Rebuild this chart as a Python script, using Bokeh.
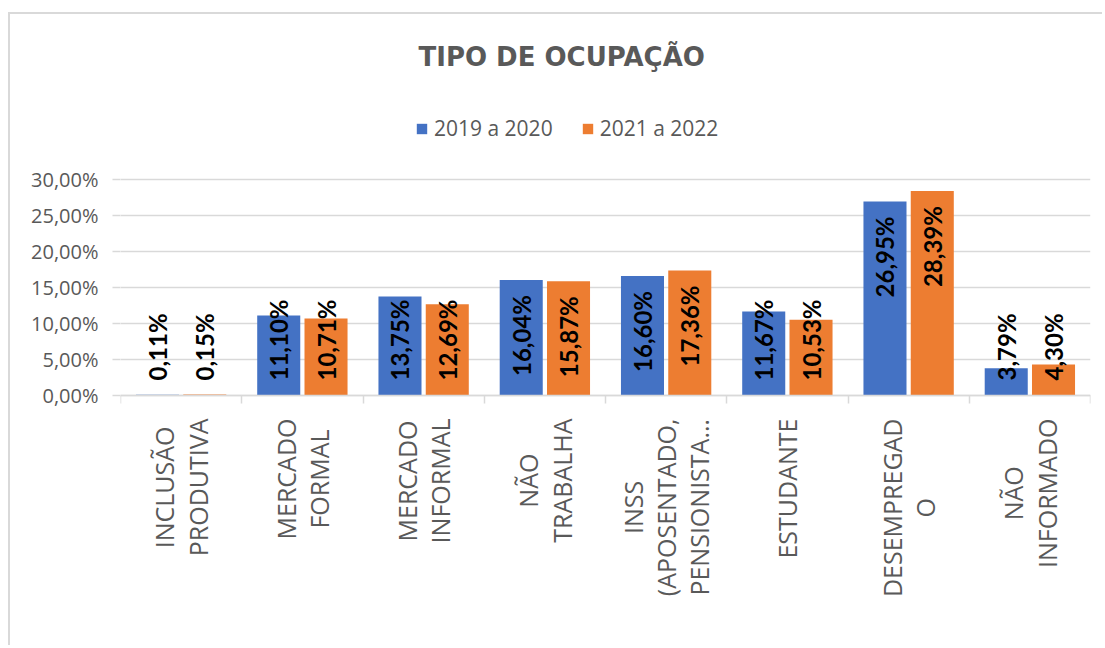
import math
from bokeh.plotting import figure
from bokeh.models import Range1d, FixedTicker, ColumnDataSource
from bokeh.core.properties import value
from bokeh.embed import file_html
from bokeh.resources import INLINE

# ---- data ----
categories = [
    "INCLUSÃO\nPRODUTIVA",
    "MERCADO\nFORMAL",
    "MERCADO\nINFORMAL",
    "NÃO\nTRABALHA",
    "INSS\n(APOSENTADO,\nPENSIONISTA…",
    "ESTUDANTE",
    "DESEMPREGAD\nO",
    "NÃO\nINFORMADO",
]
series_names = ["2019 a 2020", "2021 a 2022"]
values_2019_2020 = [0.11, 11.10, 13.75, 16.04, 16.60, 11.67, 26.95, 3.79]
values_2021_2022 = [0.15, 10.71, 12.69, 15.87, 17.36, 10.53, 28.39, 4.30]
y_ticks = [0, 5, 10, 15, 20, 25, 30]
y_tick_labels = ["0,00%", "5,00%", "10,00%", "15,00%", "20,00%", "25,00%", "30,00%"]
title_text = "TIPO DE OCUPAÇÃO"

# ---- style / layout ----
BLUE = "#4472C4"
ORANGE = "#ED7D31"
GRAY_TXT = "#595959"
GRID = "#d9d9d9"
W, H = 1094, 633
MB_L, MB_R, MB_T, MB_B = 110, 14, 82, 16
GRID_H = 216            # px from 0% to 30%
ZERO_FROM_TOP = 299     # px from frame top down to the 0% line
FRAME_H = H - MB_T - MB_B
Y_MAX = 30.0
PX_PER_UNIT = GRID_H / Y_MAX
Y_TOP = ZERO_FROM_TOP / PX_PER_UNIT
Y_BOT = -(FRAME_H - ZERO_FROM_TOP) / PX_PER_UNIT
BAR_W = 0.355
DODGE = 0.195
CAT_GAP = 23            # px between axis line and category labels

p = figure(width=W, height=H, x_range=Range1d(0, len(categories)), y_range=Range1d(Y_BOT, Y_TOP),
           output_backend="svg", toolbar_location=None,
           min_border_left=MB_L, min_border_right=MB_R, min_border_top=MB_T,
           min_border_bottom=MB_B)
p.styles = {"margin-left": "8px", "margin-top": "12px",
            "border-left": "2px solid #d9d9d9", "border-top": "2px solid #d9d9d9"}
p.outline_line_color = None
p.background_fill_color = "white"
p.border_fill_color = "white"

# title
p.title.text = title_text
p.title.align = "left"
p.title.offset = 298
p.title.vertical_align = "top"
p.title.text_font = "DejaVu Sans"
p.title.text_font_style = "bold"
p.title.text_font_size = "26px"
p.title.text_color = GRAY_TXT
p.title.standoff = 46

# y axis
p.xgrid.visible = False
p.ygrid.grid_line_color = GRID
p.ygrid.grid_line_width = 1.5
p.yaxis.ticker = FixedTicker(ticks=y_ticks)
p.yaxis.major_label_overrides = {t: l for t, l in zip(y_ticks, y_tick_labels)}
p.yaxis.axis_line_color = None
p.yaxis.major_tick_out = 8
p.yaxis.major_tick_in = 0
p.yaxis.major_tick_line_color = GRID
p.yaxis.major_tick_line_width = 1.5
p.yaxis.minor_tick_line_color = None
p.yaxis.major_label_standoff = 14
p.yaxis.major_label_text_font = "Open Sans"
p.yaxis.major_label_text_font_size = "20px"
p.yaxis.major_label_text_color = GRAY_TXT

# x axis at the 0% line, with separator ticks between categories
centers = [i + 0.5 for i in range(len(categories))]
p.xaxis.fixed_location = 0
p.xaxis.ticker = FixedTicker(ticks=[], minor_ticks=list(range(len(categories) + 1)))
p.xaxis.axis_line_color = GRID
p.xaxis.axis_line_width = 1.5
p.xaxis.major_tick_out = 0
p.xaxis.major_tick_in = 0
p.xaxis.major_tick_line_color = None
p.xaxis.minor_tick_out = 8
p.xaxis.minor_tick_in = 0
p.xaxis.minor_tick_line_color = GRID
p.xaxis.minor_tick_line_width = 1.5
p.xaxis.major_label_standoff = 0

# category labels (rotated, lines centred)
p.text(x=centers, y=[-CAT_GAP / PX_PER_UNIT] * len(centers), text=categories, angle=math.pi / 2,
       anchor=value("center_right"), text_align="center",
       text_font=value("Open Sans"), text_font_size="25px", text_color=GRAY_TXT,
       text_line_height=0.98)

# bars
x1 = [c - DODGE for c in centers]
x2 = [c + DODGE for c in centers]
p.vbar(x=x1, top=values_2019_2020, width=BAR_W, color=BLUE, line_color=None, legend_label=series_names[0])
p.vbar(x=x2, top=values_2021_2022, width=BAR_W, color=ORANGE, line_color=None, legend_label=series_names[1])

# data labels
def fmt(v):
    return f"{v:.2f}".replace(".", ",") + "%"

def est_len(s):
    return sum(13.9 if c.isdigit() else 5.8 if c == "," else 20.6 for c in s)

END_GAP = 15
BASE_GAP = 15
top_rows = dict(x=[], y=[], t=[])
base_rows = dict(x=[], y=[], t=[])
for xs, vals in ((x1, values_2019_2020), (x2, values_2021_2022)):
    for x, v in zip(xs, vals):
        s = fmt(v)
        top_px = v * PX_PER_UNIT
        if top_px - END_GAP - est_len(s) >= BASE_GAP:
            top_rows["x"].append(x); top_rows["y"].append(v - END_GAP / PX_PER_UNIT); top_rows["t"].append(s)
        else:
            base_rows["x"].append(x); base_rows["y"].append(BASE_GAP / PX_PER_UNIT); base_rows["t"].append(s)

for rows, align in ((top_rows, "right"), (base_rows, "left")):
    p.text(x="x", y="y", text="t", source=ColumnDataSource(rows), angle=math.pi / 2,
           text_align=align, text_baseline="middle", text_font=value("Lato"),
           text_font_style="bold", text_font_size="24px", text_color="black")

# legend (in the frame, above the 30% line)
lg = p.legend[0]
lg.orientation = "horizontal"
lg.location = (295, 253 + (FRAME_H - ZERO_FROM_TOP))
lg.border_line_color = None
lg.background_fill_alpha = 0
lg.padding = 0
lg.margin = 0
lg.spacing = 28
lg.glyph_width = 13
lg.glyph_height = 13
lg.label_standoff = 6
lg.label_text_font = "Open Sans"
lg.label_text_font_size = "21px"
lg.label_text_color = GRAY_TXT

open("out.html", "w").write(file_html(p, INLINE))
